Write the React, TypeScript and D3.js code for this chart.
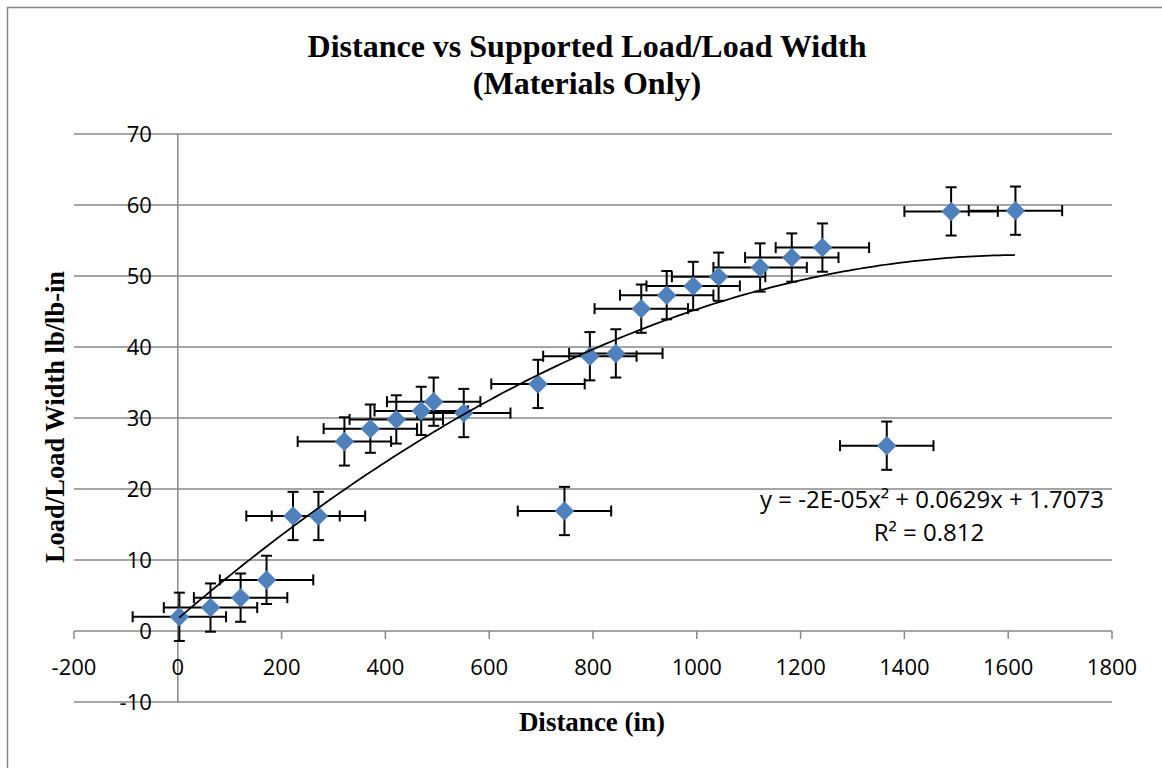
import { useRef, useEffect } from 'react'
import * as d3 from 'd3'

// measured points (distance in, load/load width)
const distance = [3, 63, 121, 171, 222, 271, 321, 371, 421, 469, 493, 551, 694, 745, 794, 844, 893, 942, 993, 1042, 1122, 1183, 1242, 1366, 1490, 1614]
const loadWidth = [2.0, 3.3, 4.7, 7.2, 16.2, 16.2, 26.7, 28.5, 29.8, 31.0, 32.3, 30.7, 34.8, 16.9, 38.7, 39.1, 45.4, 47.3, 48.6, 49.9, 51.2, 52.6, 54.0, 26.1, 59.1, 59.2]
const X_ERR = 90
const Y_ERR = 3.4

// quadratic trend (a, b, c)
const trendCoef = [-1.93e-5, 0.0629, 1.7073]
const xTicks = [-200, 0, 200, 400, 600, 800, 1000, 1200, 1400, 1600, 1800]
const yTicks = [-10, 0, 10, 20, 30, 40, 50, 60, 70]

const W = 1162
const H = 768
const GRID = '#878787'
const BLUE = '#4F81BD'
const SERIF = '"Liberation Serif", "Times New Roman", serif'

export default function App() {
  const svgRef = useRef<SVGSVGElement>(null)

  useEffect(() => {
    if (!svgRef.current) return
    const svg = d3.select(svgRef.current)
    svg.selectAll('*').remove()

    const x = d3.scaleLinear().domain([-200, 1800]).range([74, 1112])
    const y = d3.scaleLinear().domain([-10, 70]).range([702, 134])

    // chart border
    svg.append('rect')
      .attr('x', 7.5).attr('y', 7.5).attr('width', 1160).attr('height', 780)
      .attr('fill', 'white').attr('stroke', GRID).attr('stroke-width', 1.5)

    // Title
    const title = svg.append('text')
      .attr('text-anchor', 'middle')
      .attr('font-family', SERIF)
      .attr('font-weight', 'bold')
      .attr('font-size', 32)
      .attr('fill', '#000')
    title.append('tspan').attr('x', 587).attr('y', 57).text('Distance vs Supported Load/Load Width')
    title.append('tspan').attr('x', 587).attr('y', 94).text('(Materials Only)')

    // horizontal gridlines
    svg.append('g')
      .selectAll('line')
      .data(yTicks)
      .join('line')
      .attr('x1', x(-200)).attr('x2', x(1800))
      .attr('y1', (d) => y(d)).attr('y2', (d) => y(d))
      .attr('stroke', GRID).attr('stroke-width', 1.5)

    // vertical axis at x = 0
    svg.append('line')
      .attr('x1', x(0)).attr('x2', x(0))
      .attr('y1', y(70)).attr('y2', y(-10))
      .attr('stroke', GRID).attr('stroke-width', 1.5)

    // x tick marks on the y = 0 line
    svg.append('g')
      .selectAll('line')
      .data(xTicks)
      .join('line')
      .attr('x1', (d) => x(d)).attr('x2', (d) => x(d))
      .attr('y1', y(0)).attr('y2', y(0) + 8)
      .attr('stroke', GRID).attr('stroke-width', 1.5)

    const tickFont = '"Open Sans", "Noto Sans", sans-serif'

    svg.append('g')
      .selectAll('text')
      .data(yTicks)
      .join('text')
      .attr('x', x(0) - 26)
      .attr('y', (d) => y(d))
      .attr('dy', '0.35em')
      .attr('text-anchor', 'end')
      .attr('font-family', tickFont)
      .attr('font-size', 22)
      .text((d) => d)

    svg.append('g')
      .selectAll('text')
      .data(xTicks)
      .join('text')
      .attr('x', (d) => x(d))
      .attr('y', y(0) + 36)
      .attr('dy', '0.35em')
      .attr('text-anchor', 'middle')
      .attr('font-family', tickFont)
      .attr('font-size', 22)
      .text((d) => d)

    // axis titles
    svg.append('text')
      .attr('x', 592).attr('y', 731)
      .attr('text-anchor', 'middle')
      .attr('font-family', SERIF)
      .attr('font-weight', 'bold').attr('font-size', 27)
      .text('Distance (in)')

    svg.append('text')
      .attr('transform', 'translate(64,417) rotate(-90)')
      .attr('text-anchor', 'middle')
      .attr('font-family', SERIF)
      .attr('font-weight', 'bold').attr('font-size', 26.5)
      .text('Load/Load Width lb/lb-in')

    const pts = distance.map((d, i) => ({ d, v: loadWidth[i] }))

    // error bars
    const eb = svg.append('g').attr('stroke', '#000').attr('stroke-width', 2)
    const cap = 5.5
    pts.forEach((p) => {
      const cx = x(p.d)
      const cy = y(p.v)
      const x0 = x(p.d - X_ERR)
      const x1 = x(p.d + X_ERR)
      const y0 = y(p.v - Y_ERR)
      const y1 = y(p.v + Y_ERR)
      eb.append('line').attr('x1', x0).attr('x2', x1).attr('y1', cy).attr('y2', cy)
      eb.append('line').attr('x1', x0).attr('x2', x0).attr('y1', cy - cap).attr('y2', cy + cap)
      eb.append('line').attr('x1', x1).attr('x2', x1).attr('y1', cy - cap).attr('y2', cy + cap)
      eb.append('line').attr('x1', cx).attr('x2', cx).attr('y1', y0).attr('y2', y1)
      eb.append('line').attr('x1', cx - cap).attr('x2', cx + cap).attr('y1', y0).attr('y2', y0)
      eb.append('line').attr('x1', cx - cap).attr('x2', cx + cap).attr('y1', y1).attr('y2', y1)
    })

    // diamond markers
    const diamond = d3.symbol().type(d3.symbolSquare).size(190)
    svg.append('g')
      .selectAll('path')
      .data(pts)
      .join('path')
      .attr('d', diamond)
      .attr('transform', (p) => `translate(${x(p.d)},${y(p.v)}) rotate(45)`)
      .attr('fill', BLUE)

    // trend line
    const [a, b, c] = trendCoef
    const xs = d3.range(d3.min(distance)!, d3.max(distance)! + 1, 10)
    const trend = d3.line<number>()
      .x((d) => x(d))
      .y((d) => y(a * d * d + b * d + c))
      .curve(d3.curveMonotoneX)
    svg.append('path')
      .datum(xs)
      .attr('d', trend)
      .attr('fill', 'none')
      .attr('stroke', '#000')
      .attr('stroke-width', 1.75)

    // equation label
    const eq = svg.append('text')
      .attr('text-anchor', 'middle')
      .attr('font-family', tickFont)
      .attr('font-size', 24)
    eq.append('tspan').attr('x', 932).attr('y', 508).text('y = -2E-05x² + 0.0629x + 1.7073')
    eq.append('tspan').attr('x', 929).attr('y', 541).text('R² = 0.812')
  }, [])

  return (
    <svg
      ref={svgRef}
      width={W}
      height={H}
      style={{ position: 'absolute', left: 0, top: 0, background: '#fff' }}
    />
  )
}
